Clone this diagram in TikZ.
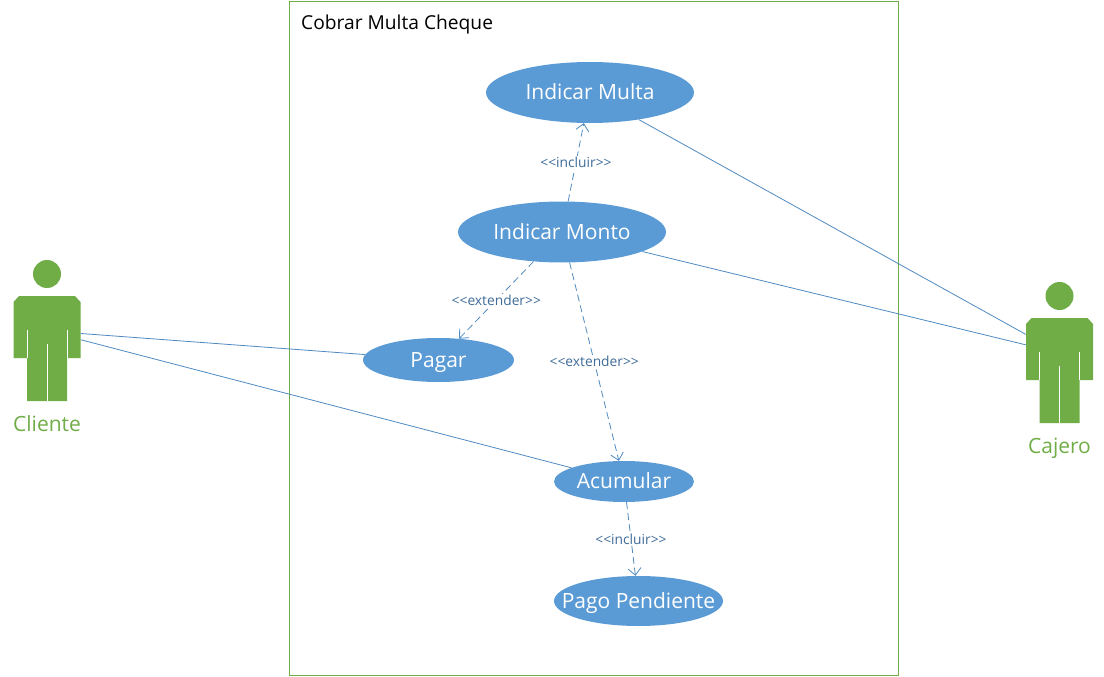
\documentclass[tikz,border=0pt]{standalone}
\usepackage{fontspec}
\setmainfont{Open Sans}
\usetikzlibrary{shapes.geometric,arrows.meta}

\definecolor{usecase}{HTML}{5B9BD5}
\definecolor{actorgreen}{HTML}{70AD47}
\definecolor{linkblue}{HTML}{4F8AC0}
\definecolor{labelblue}{HTML}{3F6C99}

\tikzset{
	usecase/.style={ellipse,fill=usecase,text=white,inner ysep=0pt,inner xsep=-30pt,text height=15pt,text depth=1pt,font=\fontsize{21}{25}\selectfont},
	actorbox/.style={rectangle,minimum width=67pt,minimum height=141pt,inner sep=0pt},
	actorname/.style={text=actorgreen,text height=15pt,text depth=0pt,inner sep=0pt,font=\fontsize{21}{25}\selectfont},
	assoc/.style={draw=linkblue,line width=0.8pt},
	dep/.style={draw=linkblue,line width=0.8pt,dash pattern=on 7pt off 4pt,-{Straight Barb[length=7pt,width=13pt]}},
	deplabel/.style={fill=white,inner sep=1pt,text=labelblue,font=\fontsize{13.8}{16}\selectfont},
	pics/stickman/.style={code={
		\fill[actorgreen] (0,-57) circle (14);
		\fill[actorgreen] (-33.5,-29) -- (-28,-35) -- (28,-35) -- (33.5,-29) -- (33.5,27) -- (20,27) -- (20,70) -- (-20,70) -- (-20,27) -- (-33.5,27) -- cycle;
		\draw[white,line width=0.7pt] (-20,-1) -- (-20,27) (20,-1) -- (20,27) (0,13) -- (0,70);
	}}
}

\begin{document}
\begin{tikzpicture}[x=1pt,y=-1pt]

		\useasboundingbox (0,0) rectangle (1104,677);

		\node[rectangle,draw=actorgreen,line width=1.1pt,minimum width=609pt,minimum height=674pt,inner sep=0pt] (sistema) at (594,338.5) {};
		\node[anchor=west,inner sep=0pt,font=\fontsize{19.2}{23}\selectfont] (titulo) at (301,25) {Cobrar Multa Cheque};

		\node[usecase,minimum width=208pt,minimum height=61pt] (multa) at (590,92.5) {Indicar Multa};
		\node[usecase,minimum width=208pt,minimum height=61pt] (monto) at (562,232) {Indicar Monto};
		\node[usecase,minimum width=151pt,minimum height=44pt] (pagar) at (438.5,360) {Pagar};
		\node[usecase,minimum width=140pt,minimum height=41pt] (acumular) at (624,481.5) {Acumular};
		\node[usecase,minimum width=169pt,minimum height=50pt] (pago) at (638.5,601) {Pago Pendiente};

		\node[actorbox] (cliente) at (47,331) {};
		\node[actorbox] (cajero) at (1059.5,353) {};
		\pic at (cliente.center) {stickman};
		\pic at (cajero.center) {stickman};
		\node[actorname] (nomcliente) at (47,424) {Cliente};
		\node[actorname] (nomcajero) at (1059.5,446) {Cajero};

		\path[dep] (monto) edge node[midway,deplabel] 
			{{<}{<}incluir{>}{>}} (multa);
		\path[dep] (monto) edge node[midway,deplabel] 
			{{<}{<}extender{>}{>}} (pagar);
		\path[dep] (monto) edge node[midway,deplabel] 
			{{<}{<}extender{>}{>}} (acumular);
		\path[dep] (acumular) edge node[midway,deplabel] 
			{{<}{<}incluir{>}{>}} (pago);

		\path[assoc] (cliente) edge (pagar);
		\path[assoc] (cliente) edge (acumular);
		\path[assoc] (multa) edge (cajero);
		\path[assoc] (monto) edge (cajero);

	\end{tikzpicture}
\end{document}
